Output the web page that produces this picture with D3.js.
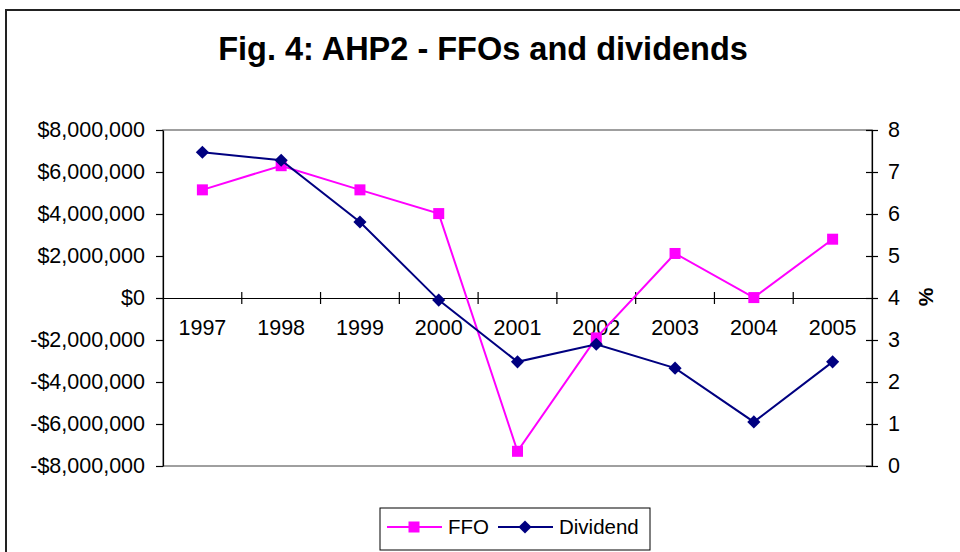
<!DOCTYPE html>
<html>
<head>
<meta charset="utf-8">
<script src="https://cdn.jsdelivr.net/npm/d3@7"></script>
<style>
  body { margin: 0; background: #fff; }
  svg { display: block; font-family: "Liberation Sans", Arial, sans-serif; }
</style>
</head>
<body>
<svg id="chart" width="960" height="552"></svg>
<script>
// data
const years = ["1997", "1998", "1999", "2000", "2001", "2002", "2003", "2004", "2005"];
const ffo = [5150000, 6300000, 5150000, 4020000, -7300000, -1900000, 2120000, 20000, 2800000];
const dividend = [7.47, 7.28, 5.81, 3.95, 2.48, 2.9, 2.33, 1.05, 2.48];
const leftTicks = [-8000000, -6000000, -4000000, -2000000, 0, 2000000, 4000000, 6000000, 8000000];
const rightTicks = [0, 1, 2, 3, 4, 5, 6, 7, 8];

const svg = d3.select("#chart");
const plot = { left: 163, right: 872, top: 130, bottom: 466 };

// outer chart frame (runs off the page at right / bottom)
svg.append("rect")
  .attr("x", 6).attr("y", 10)
  .attr("width", 1000).attr("height", 600)
  .attr("fill", "#fff")
  .attr("stroke", "#222").attr("stroke-width", 2);

svg.append("text")
  .attr("x", 483).attr("y", 60)
  .attr("text-anchor", "middle")
  .attr("font-size", 32.5).attr("font-weight", "bold")
  .text("Fig. 4: AHP2 - FFOs and dividends");

const x = d3.scaleBand().domain(years).range([plot.left, plot.right]);
const yL = d3.scaleLinear().domain([-8000000, 8000000]).range([plot.bottom, plot.top]);
const yR = d3.scaleLinear().domain([0, 8]).range([plot.bottom, plot.top]);
const cx = (d) => x(d) + x.bandwidth() / 2;

// plot area border
svg.append("rect")
  .attr("x", plot.left).attr("y", plot.top)
  .attr("width", plot.right - plot.left).attr("height", plot.bottom - plot.top)
  .attr("fill", "none").attr("stroke", "#808080").attr("stroke-width", 1.5);

// left axis ($)
const money = (d) => (d < 0 ? "-$" : "$") + d3.format(",")(Math.abs(d));
const gL = svg.append("g")
  .attr("transform", `translate(${plot.left},0)`)
  .call(d3.axisLeft(yL).tickValues(leftTicks).tickFormat(money).tickSizeInner(7).tickSizeOuter(0).tickPadding(11));

// right axis (%)
const gR = svg.append("g")
  .attr("transform", `translate(${plot.right},0)`)
  .call(d3.axisRight(yR).tickValues(rightTicks).tickSizeInner(6).tickSizeOuter(0).tickPadding(10));
gR.selectAll(".tick line").attr("x1", -6);

// x axis sits at $0
const gX = svg.append("g")
  .attr("transform", `translate(0,${yL(0)})`)
  .call(d3.axisBottom(x).tickSize(0).tickPadding(22));
gX.selectAll(".tick").attr("transform", (d) => `translate(${cx(d)},0)`);
gX.selectAll(".boundary")
  .data(years.slice(1))
  .join("line")
  .attr("class", "boundary")
  .attr("x1", (d) => x(d)).attr("x2", (d) => x(d))
  .attr("y1", -6).attr("y2", 6)
  .attr("stroke", "#000");

[gL, gR, gX].forEach((g) => {
  g.selectAll("text").attr("font-size", 21.5).attr("fill", "#000")
    .attr("font-family", "'Liberation Sans', Arial, sans-serif");
  g.selectAll("line, path").attr("stroke", "#000").attr("stroke-width", 1.2);
});

svg.append("text")
  .attr("transform", "translate(925,297) rotate(-90)")
  .attr("text-anchor", "middle").attr("dominant-baseline", "central")
  .attr("font-size", 21).attr("font-weight", "bold")
  .text("%");

// FFO series
const ffoLine = d3.line().x((d, i) => cx(years[i])).y((d) => yL(d));
svg.append("path").datum(ffo)
  .attr("d", ffoLine)
  .attr("fill", "none").attr("stroke", "#ff00ff").attr("stroke-width", 2);
svg.selectAll(".ffo-pt").data(ffo).join("rect")
  .attr("class", "ffo-pt")
  .attr("x", (d, i) => cx(years[i]) - 5.5).attr("y", (d) => yL(d) - 5.5)
  .attr("width", 11).attr("height", 11)
  .attr("fill", "#ff00ff");

// Dividend series
const divLine = d3.line().x((d, i) => cx(years[i])).y((d) => yR(d));
const diamond = d3.symbol().type(d3.symbolDiamond2).size(110);
svg.append("path").datum(dividend)
  .attr("d", divLine)
  .attr("fill", "none").attr("stroke", "#000080").attr("stroke-width", 2);
svg.selectAll(".div-pt").data(dividend).join("path")
  .attr("class", "div-pt")
  .attr("transform", (d, i) => `translate(${cx(years[i])},${yR(d)})`)
  .attr("d", diamond)
  .attr("fill", "#000080");

// legend
const lg = svg.append("g");
lg.append("rect")
  .attr("x", 380).attr("y", 508).attr("width", 270).attr("height", 42)
  .attr("fill", "#fff").attr("stroke", "#000").attr("stroke-width", 1);
lg.append("line").attr("x1", 387).attr("x2", 442).attr("y1", 527).attr("y2", 527)
  .attr("stroke", "#ff00ff").attr("stroke-width", 2);
lg.append("rect").attr("x", 408.5).attr("y", 521.5).attr("width", 11).attr("height", 11)
  .attr("fill", "#ff00ff");
lg.append("text").attr("x", 448).attr("y", 534).attr("font-size", 20.5).text("FFO");
lg.append("line").attr("x1", 498).attr("x2", 553).attr("y1", 527).attr("y2", 527)
  .attr("stroke", "#000080").attr("stroke-width", 2);
lg.append("path").attr("transform", "translate(525,527)").attr("d", diamond)
  .attr("fill", "#000080");
lg.append("text").attr("x", 559).attr("y", 534).attr("font-size", 20.5).text("Dividend");
</script>
</body>
</html>
